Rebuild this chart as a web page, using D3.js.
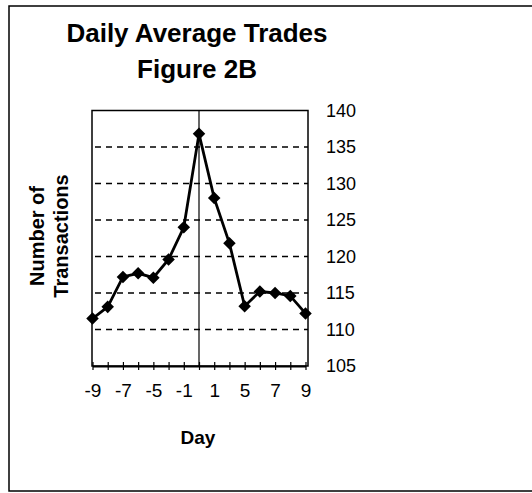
<!DOCTYPE html>
<html>
<head>
<meta charset="utf-8">
<script src="https://cdn.jsdelivr.net/npm/d3@7"></script>
<style>
  body { margin: 0; background: #fff; }
  text { font-family: "Liberation Sans", Arial, sans-serif; fill: #000; }
</style>
</head>
<body>
<div id="chart"></div>
<script>
// day labels along the category axis (only every other one is printed)
var days = ["-9", "-8", "-7", "-6", "-5", "-3", "-1", "0", "1", "3", "5", "6", "7", "8", "9"];
var trades = [111.5, 113.1, 117.2, 117.7, 117.1, 119.6, 124.0, 136.8, 128.0, 121.8, 113.2, 115.2, 115.0, 114.6, 112.2];
var yTicks = [105, 110, 115, 120, 125, 130, 135, 140];

var width = 532, height = 493;

var svg = d3.select("#chart").append("svg")
    .attr("width", width)
    .attr("height", height);

// outer chart border
svg.append("rect")
    .attr("x", 9).attr("y", 6)
    .attr("width", 540).attr("height", 485)
    .attr("fill", "none")
    .attr("stroke", "#000")
    .attr("stroke-width", 1.5);

var pLeft = 92, pRight = 308, pTop = 110.5, pBottom = 366;

var x = d3.scalePoint().domain(days).range([pLeft + 0.5, pRight - 2.5]);
var y = d3.scaleLinear().domain([105, 140]).range([pBottom, pTop]);

// dashed gridlines
svg.append("g")
    .selectAll("line")
    .data(yTicks.filter(function (d) { return d > 105 && d < 140; }))
    .enter().append("line")
    .attr("x1", pLeft + 3).attr("x2", pRight)
    .attr("y1", function (d) { return y(d); })
    .attr("y2", function (d) { return y(d); })
    .attr("stroke", "#000")
    .attr("stroke-width", 1.5)
    .attr("stroke-dasharray", "6,5");

// plot frame
svg.append("rect")
    .attr("x", pLeft).attr("y", pTop)
    .attr("width", pRight - pLeft).attr("height", pBottom - pTop)
    .attr("fill", "none")
    .attr("stroke", "#000")
    .attr("stroke-width", 1.5);

// vertical line at day 0
svg.append("line")
    .attr("x1", x("0")).attr("x2", x("0"))
    .attr("y1", pTop).attr("y2", pBottom)
    .attr("stroke", "#000")
    .attr("stroke-width", 1.2);

// x axis with crossing ticks
var xAxis = svg.append("g")
    .attr("transform", "translate(0," + pBottom + ")")
    .call(d3.axisBottom(x).tickSizeInner(4).tickSizeOuter(0).tickPadding(14)
        .tickFormat(function (d, i) { return i % 2 === 0 ? d : ""; }));
xAxis.select(".domain").attr("stroke-width", 2);
xAxis.selectAll(".tick line").attr("y1", -4).attr("stroke-width", 1.2);
xAxis.selectAll("text")
    .attr("font-size", "19px")
    .attr("fill", "#000");

// y axis labels on the right
var yAxis = svg.append("g")
    .attr("transform", "translate(" + (pRight + 18) + ",0)")
    .call(d3.axisRight(y).tickValues(yTicks).tickSize(0).tickPadding(0));
yAxis.select(".domain").remove();
yAxis.selectAll("text")
    .attr("font-size", "18px")
    .attr("text-anchor", "start")
    .attr("fill", "#000");

// series line
var line = d3.line()
    .x(function (d, i) { return x(days[i]); })
    .y(function (d) { return y(d); });

svg.append("path")
    .datum(trades)
    .attr("d", line)
    .attr("fill", "none")
    .attr("stroke", "#000")
    .attr("stroke-width", 2.8);

svg.append("g")
    .selectAll("path")
    .data(trades)
    .enter().append("path")
    .attr("d", d3.symbol().type(d3.symbolDiamond2).size(100))
    .attr("transform", function (d, i) { return "translate(" + x(days[i]) + "," + y(d) + ")"; })
    .attr("fill", "#000");

// titles
svg.append("text")
    .attr("x", 197).attr("y", 42)
    .attr("text-anchor", "middle")
    .attr("font-size", "26px")
    .attr("font-weight", "bold")
    .text("Daily Average Trades");

svg.append("text")
    .attr("x", 197).attr("y", 78)
    .attr("text-anchor", "middle")
    .attr("font-size", "26px")
    .attr("font-weight", "bold")
    .text("Figure 2B");

svg.append("text")
    .attr("x", 198).attr("y", 444)
    .attr("text-anchor", "middle")
    .attr("font-size", "19px")
    .attr("font-weight", "bold")
    .text("Day");

var yTitle = svg.append("text")
    .attr("transform", "translate(44,236) rotate(-90)")
    .attr("text-anchor", "middle")
    .attr("font-size", "20px")
    .attr("font-weight", "bold");
yTitle.append("tspan").attr("x", 0).attr("dy", 0).text("Number of");
yTitle.append("tspan").attr("x", 0).attr("dy", 24).text("Transactions");
</script>
</body>
</html>
